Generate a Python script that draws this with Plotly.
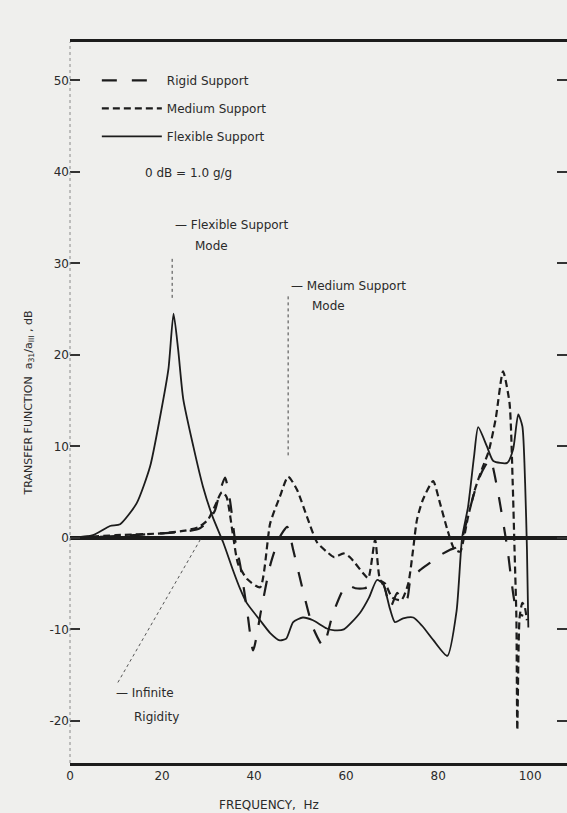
import plotly.graph_objects as go

# Frequency (Hz) and transfer function (dB)
freq_flex = [0, 5, 8.7, 10.9, 14.5, 17.4, 19.6, 21.4, 22.5, 23.5, 24.6, 26.8, 28.9, 31, 33.3,
             35.4, 37, 38.4, 41.3, 43.5, 45.6, 47, 48.5, 50.6, 52.8, 55.8, 57.5, 59.5, 63, 65,
             66.7, 68, 69.5, 70.6, 72.4, 74.6, 76.5, 79, 82, 84, 85.2, 86.5, 87.8, 88.7, 90.6,
             92, 95, 96.3, 97.4, 98.3, 98.9, 99.3, 99.6]
db_flex = [0, 0.3, 1.3, 1.5, 3.8, 7.8, 13.3, 18.5, 24.5, 20.6, 15.2, 10, 5.6, 2.3, -0.5,
           -3.5, -5.6, -7.1, -9, -10.4, -11.2, -11, -9.2, -8.7, -9, -9.9, -10.1, -10, -8.2, -6.5,
           -4.6, -5, -7.7, -9.2, -8.8, -8.7, -9.6, -11.2, -12.9, -8, 0, 3.4, 8.9, 12.1, 10,
           8.4, 8.2, 9.7, 13.5, 12.2, 6, -1.3, -9.8]

freq_rigid = [0, 10, 20, 25, 28, 30, 31.5, 32.7, 33.7, 34.8, 35.8, 37, 38.5, 39.8, 41.5, 43.5,
              45.5, 47.2, 48.5, 50.6, 52.8, 55, 57.2, 60, 62, 64, 66, 68, 69.6, 71.1, 72.2,
              73.3, 74, 76.1, 78.3, 80.4, 82.6, 84.1, 85.2, 87, 88.5, 89.8, 91.3, 93, 95,
              97.2, 98.5]
db_rigid = [0, 0.2, 0.5, 0.7, 1.0, 1.8, 3, 5.3, 6.6, 4, 0, -3, -8, -12.3, -8, -3,
            0, 1.2, -1.3, -5.7, -9.8, -11.8, -8.2, -5.2, -5.5, -5.5, -5.2, -5, -7.6, -6, -7,
            -6.6, -4.6, -3.5, -2.7, -1.9, -1.3, -1, 0, 3.4, 6, 7.5, 8.6, 5, -1,
            -8.2, -8.5]

freq_med = [0, 10, 20, 25, 28, 30, 31.5, 33, 34, 35.5, 36.5, 38.5, 41.3, 43.5, 45.6, 47.4,
            49.3, 51.5, 53.7, 56, 57.4, 59.5, 61, 63.6, 64.8, 66.3, 67.4, 68.5, 70, 72,
            73.5, 74.5, 75.4, 76.7, 78.9, 80.4, 82, 83.5, 84.8, 85.6, 86.5, 88, 89.5, 91,
            92.5, 94.1, 95.5, 96.2, 96.6, 97.0, 97.2, 97.7, 98.3, 98.8, 99.3]
db_med = [0, 0.3, 0.5, 0.8, 1.2, 2, 3.5, 5, 4.5, 0, -2.8, -4.5, -5.4, 1.6, 4.5, 6.7,
          5.3, 2.3, -0.5, -1.6, -2.1, -1.7, -2.2, -3.8, -4.4, -0.2, -4.6, -5, -6.5, -6.8,
          -5, -1.5, 2, 4.2, 6.2, 3.8, 0.9, -1.2, -1.5, 0, 2.3, 5.3, 7.5, 9.5,
          13, 18.2, 14.8, 6, -1.3, -8.7, -21, -8.7, -7.1, -7.5, -9]

x_ticks = [0, 20, 40, 60, 80, 100]
y_ticks = [50, 40, 30, 20, 10, 0, -10, -20]

INK = "#1c1c1c"
FONT = "DejaVu Sans"

fig = go.Figure()
fig.add_trace(go.Scatter(x=freq_rigid, y=db_rigid, mode="lines", name="Rigid Support",
                         line=dict(color=INK, width=2.2, dash="longdash", shape="spline", smoothing=0.6)))
fig.add_trace(go.Scatter(x=freq_med, y=db_med, mode="lines", name="Medium Support",
                         line=dict(color=INK, width=2.2, dash="7px,4px", shape="spline", smoothing=0.6)))
fig.add_trace(go.Scatter(x=freq_flex, y=db_flex, mode="lines", name="Flexible Support",
                         line=dict(color=INK, width=1.8, shape="spline", smoothing=0.6)))

ann_font = dict(family=FONT, size=12, color="#2a2a2a")
annotations = [
    dict(x=25.7, y=39.9, text="0 dB = 1.0 g/g", showarrow=False, xanchor="center", yanchor="middle"),
    dict(x=22.4, y=34.2, text="\u2014 Flexible Support", showarrow=False, xanchor="left", yanchor="middle"),
    dict(x=26.8, y=31.9, text="Mode", showarrow=False, xanchor="left", yanchor="middle"),
    dict(x=47.6, y=27.5, text="\u2014 Medium Support", showarrow=False, xanchor="left", yanchor="middle"),
    dict(x=52.2, y=25.4, text="Mode", showarrow=False, xanchor="left", yanchor="middle"),
    dict(x=9.6, y=-16.9, text="\u2014 Infinite", showarrow=False, xanchor="left", yanchor="middle"),
    dict(x=13.5, y=-19.6, text="Rigidity", showarrow=False, xanchor="left", yanchor="middle"),
]
for a in annotations:
    a["font"] = ann_font
    a["xref"] = "x"
    a["yref"] = "y"
annotations.append(dict(x=0.40, y=-0.058, xref="paper", yref="paper", text="FREQUENCY,  Hz",
                        showarrow=False, xanchor="center", yanchor="middle", font=ann_font))

shapes = [
    # faint dashed left frame line
    dict(type="line", xref="paper", yref="paper", x0=0, x1=0, y0=0, y1=1,
         line=dict(color="#8a8a8a", width=1, dash="dot")),
    # leader lines
    dict(type="line", xref="x", yref="y", x0=22.2, x1=22.2, y0=30.5, y1=26.2,
         line=dict(color="#444", width=1, dash="dot")),
    dict(type="line", xref="x", yref="y", x0=47.4, x1=47.4, y0=26.4, y1=8.8,
         line=dict(color="#444", width=1, dash="dot")),
    dict(type="line", xref="x", yref="y", x0=10.4, x1=28.3, y0=-15.8, y1=-0.2,
         line=dict(color="#555", width=1, dash="dot")),
]

fig.update_layout(
    width=567, height=813,
    margin=dict(l=70, r=0, t=42, b=50),
    paper_bgcolor="#efefed", plot_bgcolor="#efefed",
    font=dict(family=FONT, size=12, color="#2a2a2a"),
    showlegend=True,
    legend=dict(x=0.054, y=0.967, xanchor="left", yanchor="top", bgcolor="rgba(0,0,0,0)",
                font=dict(family=FONT, size=12, color="#2a2a2a"), itemwidth=60,
                tracegroupgap=9),
    annotations=annotations,
    shapes=shapes,
)
fig.update_xaxes(range=[0, 108], tickvals=x_ticks, ticktext=[str(v) for v in x_ticks],
                 showgrid=False, zeroline=False, showline=True, linewidth=3, linecolor=INK,
                 mirror=True, ticks="", tickfont=dict(size=12))
fig.update_yaxes(range=[-24.6, 54.2], tickvals=y_ticks, ticktext=[str(v) for v in y_ticks],
                 showgrid=False, zeroline=True, zerolinewidth=3.5, zerolinecolor=INK,
                 showline=False, ticks="inside", ticklen=10, tickwidth=1.5, tickcolor="#333",
                 mirror="ticks", tickfont=dict(size=12),
                 title=dict(text="TRANSFER FUNCTION  a<sub>31</sub>/a<sub>III</sub> , dB",
                            font=dict(size=11), standoff=14))
for i, tr in enumerate(fig.data):
    tr.legendgroup = "g%d" % i

fig.write_html("out.html")
